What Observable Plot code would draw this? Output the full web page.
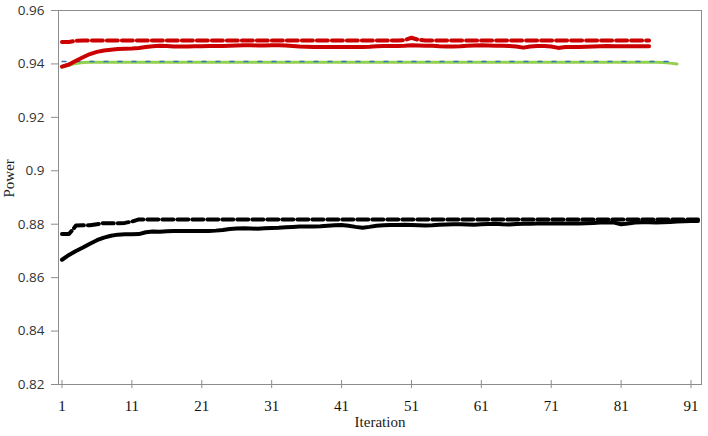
<!DOCTYPE html>
<html>
<head>
<meta charset="utf-8">
<script src="https://cdn.jsdelivr.net/npm/d3@7"></script>
<script src="https://cdn.jsdelivr.net/npm/@observablehq/plot@0.6"></script>
<style>
  html, body { margin: 0; padding: 0; background: #fff; }
</style>
</head>
<body>
<div id="chart"></div>
<script>
// ---- data ----
const xTicks = [1, 11, 21, 31, 41, 51, 61, 71, 81, 91];
const yTicks = [0.82, 0.84, 0.86, 0.88, 0.9, 0.92, 0.94, 0.96];

const redDashed = [
  0.9482, 0.9482, 0.9487, 0.9488, 0.9488, 0.9488, 0.9488, 0.9488, 0.9488, 0.9488,
  0.9488, 0.9488, 0.9488, 0.9488, 0.9488, 0.9488, 0.9488, 0.9488, 0.9488, 0.9488,
  0.9488, 0.9488, 0.9488, 0.9488, 0.9488, 0.9488, 0.9488, 0.9488, 0.9488, 0.9488,
  0.9488, 0.9488, 0.9488, 0.9488, 0.9488, 0.9488, 0.9488, 0.9488, 0.9488, 0.9488,
  0.9488, 0.9488, 0.9488, 0.9488, 0.9488, 0.9488, 0.9488, 0.9488, 0.9488, 0.9489,
  0.9498, 0.9490, 0.9488, 0.9488, 0.9488, 0.9488, 0.9488, 0.9488, 0.9488, 0.9488,
  0.9488, 0.9488, 0.9488, 0.9488, 0.9488, 0.9488, 0.9488, 0.9488, 0.9488, 0.9488,
  0.9488, 0.9488, 0.9488, 0.9488, 0.9488, 0.9488, 0.9488, 0.9488, 0.9488, 0.9488,
  0.9488, 0.9488, 0.9488, 0.9488, 0.9488
];
const redSolid = [
  0.9390, 0.9398, 0.9412, 0.9425, 0.9437, 0.9445, 0.9450, 0.9453, 0.9456, 0.9457,
  0.9458, 0.9460, 0.9463, 0.9466, 0.9468, 0.9467, 0.9465, 0.9465, 0.9465, 0.9466,
  0.9466, 0.9467, 0.9467, 0.9467, 0.9468, 0.9469, 0.9470, 0.9470, 0.9469, 0.9469,
  0.9470, 0.9470, 0.9469, 0.9467, 0.9465, 0.9464, 0.9463, 0.9463, 0.9463, 0.9463,
  0.9463, 0.9463, 0.9463, 0.9463, 0.9464, 0.9466, 0.9467, 0.9467, 0.9467, 0.9468,
  0.9470, 0.9469, 0.9468, 0.9468, 0.9466, 0.9465, 0.9465, 0.9466, 0.9468, 0.9469,
  0.9470, 0.9469, 0.9468, 0.9468, 0.9467, 0.9465, 0.9461, 0.9465, 0.9467, 0.9467,
  0.9465, 0.9460, 0.9463, 0.9463, 0.9463, 0.9464, 0.9465, 0.9466, 0.9467, 0.9466,
  0.9466, 0.9466, 0.9466, 0.9466, 0.9466
];
const blueLine = [
  0.9409, 0.9409, 0.9409, 0.9409, 0.9409, 0.9409, 0.9409, 0.9409, 0.9409, 0.9409,
  0.9409, 0.9409, 0.9409, 0.9409, 0.9409, 0.9409, 0.9409, 0.9409, 0.9409, 0.9409,
  0.9409, 0.9409, 0.9409, 0.9409, 0.9409, 0.9409, 0.9409, 0.9409, 0.9409, 0.9409,
  0.9409, 0.9409, 0.9409, 0.9409, 0.9409, 0.9409, 0.9409, 0.9409, 0.9409, 0.9409,
  0.9409, 0.9409, 0.9409, 0.9409, 0.9409, 0.9409, 0.9409, 0.9409, 0.9409, 0.9409,
  0.9409, 0.9409, 0.9409, 0.9409, 0.9409, 0.9409, 0.9409, 0.9409, 0.9409, 0.9409,
  0.9409, 0.9409, 0.9409, 0.9409, 0.9409, 0.9409, 0.9409, 0.9409, 0.9409, 0.9409,
  0.9409, 0.9409, 0.9409, 0.9409, 0.9409, 0.9409, 0.9409, 0.9409, 0.9409, 0.9409,
  0.9409, 0.9409, 0.9409, 0.9409, 0.9409, 0.9409, 0.9409, 0.9409
];
const greenLine = [
  0.9388, 0.9395, 0.9402, 0.9405, 0.9406, 0.9406, 0.9406, 0.9406, 0.9406, 0.9406,
  0.9406, 0.9406, 0.9406, 0.9406, 0.9406, 0.9406, 0.9406, 0.9406, 0.9406, 0.9406,
  0.9406, 0.9406, 0.9406, 0.9406, 0.9406, 0.9406, 0.9406, 0.9406, 0.9406, 0.9406,
  0.9406, 0.9406, 0.9406, 0.9406, 0.9406, 0.9406, 0.9406, 0.9406, 0.9406, 0.9406,
  0.9406, 0.9406, 0.9406, 0.9406, 0.9406, 0.9406, 0.9406, 0.9406, 0.9406, 0.9406,
  0.9406, 0.9406, 0.9406, 0.9406, 0.9406, 0.9406, 0.9406, 0.9406, 0.9406, 0.9406,
  0.9406, 0.9406, 0.9406, 0.9406, 0.9406, 0.9406, 0.9406, 0.9406, 0.9406, 0.9406,
  0.9406, 0.9406, 0.9406, 0.9406, 0.9406, 0.9406, 0.9406, 0.9406, 0.9406, 0.9406,
  0.9406, 0.9406, 0.9406, 0.9406, 0.9406, 0.9406, 0.9405, 0.9403, 0.9400
];
const blackDashed = [
  0.8763, 0.8763, 0.8795, 0.8796, 0.8796, 0.8800, 0.8804, 0.8804, 0.8804, 0.8805,
  0.8810, 0.8818, 0.8818, 0.8818, 0.8818, 0.8818, 0.8818, 0.8818, 0.8818, 0.8818,
  0.8818, 0.8818, 0.8818, 0.8818, 0.8818, 0.8818, 0.8818, 0.8818, 0.8818, 0.8818,
  0.8818, 0.8818, 0.8818, 0.8818, 0.8818, 0.8818, 0.8818, 0.8818, 0.8818, 0.8818,
  0.8818, 0.8818, 0.8818, 0.8818, 0.8818, 0.8818, 0.8818, 0.8818, 0.8818, 0.8818,
  0.8818, 0.8818, 0.8818, 0.8818, 0.8818, 0.8818, 0.8818, 0.8818, 0.8818, 0.8818,
  0.8818, 0.8818, 0.8818, 0.8818, 0.8818, 0.8818, 0.8818, 0.8818, 0.8818, 0.8818,
  0.8818, 0.8818, 0.8818, 0.8818, 0.8818, 0.8818, 0.8818, 0.8818, 0.8818, 0.8818,
  0.8818, 0.8818, 0.8818, 0.8818, 0.8818, 0.8818, 0.8818, 0.8818, 0.8818, 0.8818,
  0.8818, 0.8818
];
const blackSolid = [
  0.8667, 0.8685, 0.8700, 0.8713, 0.8727, 0.8740, 0.8750, 0.8757, 0.8761, 0.8762,
  0.8762, 0.8763, 0.8770, 0.8773, 0.8772, 0.8774, 0.8775, 0.8775, 0.8775, 0.8775,
  0.8775, 0.8775, 0.8776, 0.8778, 0.8782, 0.8784, 0.8785, 0.8784, 0.8783, 0.8785,
  0.8786, 0.8787, 0.8789, 0.8790, 0.8791, 0.8791, 0.8791, 0.8792, 0.8794, 0.8796,
  0.8797, 0.8794, 0.8790, 0.8787, 0.8790, 0.8794, 0.8796, 0.8797, 0.8797, 0.8798,
  0.8797, 0.8796, 0.8795, 0.8796, 0.8798, 0.8799, 0.8800, 0.8800, 0.8799, 0.8798,
  0.8800, 0.8801, 0.8802, 0.8800, 0.8799, 0.8801, 0.8802, 0.8802, 0.8803, 0.8803,
  0.8803, 0.8803, 0.8803, 0.8803, 0.8803, 0.8804, 0.8805, 0.8806, 0.8806, 0.8806,
  0.8800, 0.8803, 0.8806, 0.8807, 0.8807, 0.8806, 0.8807, 0.8808, 0.8810, 0.8811,
  0.8812, 0.8812
];

const toRows = (arr) => arr.map((v, i) => ({iter: i + 1, power: v}));

const serif = "'Liberation Serif', 'Times New Roman', serif";
const sans = "'Open Sans', 'Noto Sans', sans-serif";

const chart = Plot.plot({
  width: 708,
  height: 436,
  marginLeft: 58,
  marginRight: 7,
  marginTop: 10,
  marginBottom: 52,
  style: {background: "#fff", overflow: "visible"},
  x: {domain: [0.5, 92.5]},
  y: {domain: [0.82, 0.96]},
  marks: [
    Plot.frame({stroke: "#8c8c8c", strokeWidth: 1}),
    Plot.axisY({
      ticks: yTicks, tickSize: 7, tickPadding: 7,
      tickFormat: (d) => String(d),
      fontFamily: sans, fontSize: 13.5, fill: "#333", stroke: "#8c8c8c",
      label: null
    }),
    Plot.axisX({
      ticks: xTicks, tickSize: 8, dy: -4, text: null,
      stroke: "#8c8c8c", label: null
    }),
    Plot.axisX({
      ticks: xTicks, tickSize: 0, tickPadding: 16,
      tickFormat: (d) => String(d),
      fontFamily: serif, fontSize: 15, fill: "#111", label: null
    }),
    Plot.text(["Iteration"], {
      frameAnchor: "bottom", dy: 42, fontFamily: serif, fontSize: 15, fill: "#222"
    }),
    Plot.text(["Power"], {
      frameAnchor: "left", dx: -49, rotate: -90, fontFamily: serif, fontSize: 15, fill: "#222"
    }),
    Plot.line(toRows(blackSolid), {x: "iter", y: "power", stroke: "#000", strokeWidth: 4, strokeLinejoin: "round"}),
    Plot.line(toRows(blackDashed), {x: "iter", y: "power", stroke: "#000", strokeWidth: 4, strokeDasharray: "11,4"}),
    Plot.line(toRows(greenLine), {x: "iter", y: "power", stroke: "#92d050", strokeWidth: 3, strokeLinejoin: "round"}),
    Plot.line(toRows(blueLine), {x: "iter", y: "power", stroke: "#2f75b5", strokeWidth: 1.5, strokeDasharray: "4,10"}),
    Plot.line(toRows(redSolid), {x: "iter", y: "power", stroke: "#cc0000", strokeWidth: 4, strokeLinejoin: "round"}),
    Plot.line(toRows(redDashed), {x: "iter", y: "power", stroke: "#cc0000", strokeWidth: 4, strokeDasharray: "11,4"})
  ]
});
document.getElementById("chart").appendChild(chart);
</script>
</body>
</html>
